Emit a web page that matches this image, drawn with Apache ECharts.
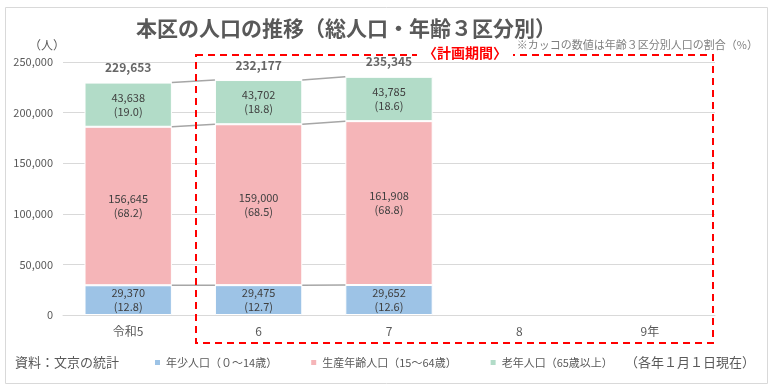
<!DOCTYPE html>
<html><head><meta charset="utf-8">
<script src="https://cdn.jsdelivr.net/npm/echarts@6/dist/echarts.min.js"></script>
<style>html,body{margin:0;padding:0;background:#fff}#c{width:770px;height:388px}</style>
</head><body><div id="c"></div>
<script>
const categories = ['令和5', '6', '7', '8', '9年'];
const young = [29370, 29475, 29652, null, null];
const working = [156645, 159000, 161908, null, null];
const elderly = [43638, 43702, 43785, null, null];
const totals = [229653, 232177, 235345, null, null];
const youngPct = ['12.8', '12.7', '12.6', null, null];
const workingPct = ['68.2', '68.5', '68.8', null, null];
const elderlyPct = ['19.0', '18.8', '18.6', null, null];
const yTicks = [0, 50000, 100000, 150000, 200000, 250000];

const FONT = '"Noto Sans CJK JP", "Noto Sans", sans-serif';
const fmt = v => v.toLocaleString('en-US');

// series-line segments between adjacent bars
const segs = [];
for (let i = 0; i < categories.length - 1; i++) {
  if (young[i] == null || young[i + 1] == null) continue;
  segs.push([i, young[i], young[i + 1]]);
  segs.push([i, young[i] + working[i], young[i + 1] + working[i + 1]]);
  segs.push([i, young[i] + working[i] + elderly[i], young[i + 1] + working[i + 1] + elderly[i + 1]]);
}

const GAP = 0.33;
const labelStyle = { color: '#404040', fontSize: 11, fontFamily: FONT, lineHeight: 14 };
function barSeries(name, data, pct, color) {
  return {
    name, type: 'bar', stack: 'pop', data, barCategoryGap: (GAP * 100) + '%',
    itemStyle: { color, borderColor: '#fff', borderWidth: 1 },
    label: { show: true, position: 'inside', ...labelStyle,
      formatter: p => p.value == null ? '' : fmt(p.value) + '\n(' + pct[p.dataIndex] + ')' },
    emphasis: { disabled: true }
  };
}

const chart = echarts.init(document.getElementById('c'), null, { renderer: 'canvas' });
chart.setOption({
  animation: false,
  textStyle: { fontFamily: FONT },
  title: {
    text: '本区の人口の推移（総人口・年齢３区分別）', left: 131, top: 13,
    textStyle: { fontSize: 21, fontWeight: 'bold', color: '#595959', fontFamily: FONT }
  },
  grid: { left: 63, right: 55, top: 62, bottom: 73 },
  legend: {
    data: ['年少人口（０～14歳）', '生産年齢人口（15～64歳）', '老年人口（65歳以上）'],
    left: 148, top: 352, itemWidth: 7, itemHeight: 7, itemGap: 32, icon: 'rect',
    textStyle: { fontSize: 11, color: '#595959', fontFamily: FONT }, selectedMode: false
  },
  xAxis: {
    type: 'category', data: categories,
    axisLine: { lineStyle: { color: '#D9D9D9', width: 1 } },
    axisTick: { show: false },
    axisLabel: { color: '#595959', fontSize: 12, margin: 10, fontFamily: FONT }
  },
  yAxis: {
    type: 'value', min: 0, max: 250000, interval: 50000,
    axisLabel: { color: '#595959', fontSize: 11, margin: 10, fontFamily: FONT,
      formatter: v => fmt(v) },
    splitLine: { lineStyle: { color: '#D9D9D9', width: 1 } },
    axisLine: { show: false }, axisTick: { show: false }
  },
  series: [
    barSeries('年少人口（０～14歳）', young, youngPct, '#9DC3E6'),
    barSeries('生産年齢人口（15～64歳）', working, workingPct, '#F5B5B8'),
    barSeries('老年人口（65歳以上）', elderly, elderlyPct, '#B2DCC8'),
    {
      type: 'custom', data: segs, encode: { x: 0, y: [1, 2] }, z: 3, silent: true,
      renderItem: (params, api) => {
        const i = api.value(0);
        const p0 = api.coord([i, api.value(1)]);
        const p1 = api.coord([i + 1, api.value(2)]);
        const half = api.size([1, 0])[0] * (1 - GAP) / 2;
        return { type: 'line', shape: { x1: p0[0] + half, y1: p0[1], x2: p1[0] - half, y2: p1[1] },
          style: { stroke: '#A6A6A6', lineWidth: 1.5 } };
      }
    },
    {
      type: 'scatter', data: totals, symbolSize: 0, silent: true,
      label: { show: true, position: 'top', distance: 9, color: '#404040', fontSize: 12, fontWeight: 'bold',
        fontFamily: FONT, formatter: p => p.value == null ? '' : fmt(p.value) }
    }
  ],
  graphic: [
    { type: 'rect', left: 3, top: 5, shape: { width: 762, height: 376 }, style: { fill: 'none', stroke: '#D9D9D9', lineWidth: 1 }, z: -10 },
    { type: 'rect', shape: { x: 196, y: 55, width: 517, height: 288 }, style: { fill: 'none', stroke: '#FF0000', lineWidth: 2, lineDash: [7, 5] }, z: 50 },
    { type: 'text', x: 465, y: 53, style: { text: '〈計画期間〉', fill: '#FF0000', font: 'bold 14px ' + FONT, align: 'center', verticalAlign: 'middle', backgroundColor: '#fff', padding: [1, 6] }, z: 51 },
    { type: 'text', x: 758, y: 45, style: { text: '※カッコの数値は年齢３区分別人口の割合（%）', fill: '#7F7F7F', font: '11px ' + FONT, align: 'right', verticalAlign: 'middle' }, z: 51 },
    { type: 'text', x: 47, y: 45, style: { text: '（人）', fill: '#595959', font: '12px ' + FONT, align: 'center', verticalAlign: 'middle' } },
    { type: 'text', x: 15, y: 362, style: { text: '資料：文京の統計', fill: '#595959', font: '13px ' + FONT, align: 'left', verticalAlign: 'middle' } },
    { type: 'text', x: 755, y: 362, style: { text: '（各年１月１日現在）', fill: '#595959', font: '13px ' + FONT, align: 'right', verticalAlign: 'middle' } }
  ]
});
</script></body></html>
